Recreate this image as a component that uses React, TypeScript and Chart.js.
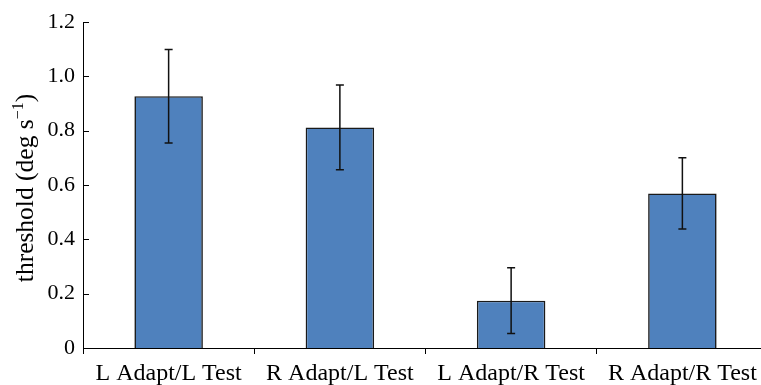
import React, { useEffect, useRef } from "react";
import { Chart, registerables } from "chart.js";

Chart.register(...registerables);

const categories = ["L Adapt/L Test", "R Adapt/L Test", "L Adapt/R Test", "R Adapt/R Test"];
const thresholds = [0.927, 0.812, 0.174, 0.569];
const errors = [0.172, 0.156, 0.121, 0.131];
const yTicks = [0, 0.2, 0.4, 0.6, 0.8, 1.0, 1.2];

const FONT = "'Liberation Serif', 'DejaVu Serif', serif";

const errorBarPlugin = {
  id: "errorBars",
  afterDatasetsDraw(chart: any) {
    const ctx = chart.ctx;
    const meta = chart.getDatasetMeta(0);
    const y = chart.scales.y;
    ctx.save();
    ctx.strokeStyle = "#111";
    ctx.lineWidth = 1.5;
    meta.data.forEach((bar: any, i: number) => {
      const x = bar.x;
      const top = y.getPixelForValue(thresholds[i] + errors[i]);
      const bot = y.getPixelForValue(thresholds[i] - errors[i]);
      ctx.beginPath();
      ctx.moveTo(x, top);
      ctx.lineTo(x, bot);
      ctx.moveTo(x - 4, top);
      ctx.lineTo(x + 4, top);
      ctx.moveTo(x - 4, bot);
      ctx.lineTo(x + 4, bot);
      ctx.stroke();
    });
    ctx.restore();
  },
};

const axisDecorPlugin = {
  id: "axisDecor",
  afterDraw(chart: any) {
    const ctx = chart.ctx;
    const y = chart.scales.y;
    const left = chart.chartArea.left;
    ctx.save();
    ctx.strokeStyle = "#000";
    ctx.lineWidth = 1;
    yTicks.forEach((v) => {
      const py = Math.round(y.getPixelForValue(v)) + 0.5;
      ctx.beginPath();
      ctx.moveTo(left, py);
      ctx.lineTo(left + 6, py);
      ctx.stroke();
    });
    // y title with superscript
    const main = "threshold (deg s";
    const sup = "\u22121";
    const close = ")";
    const mainFont = `25.5px ${FONT}`;
    const supFont = `16px ${FONT}`;
    ctx.font = mainFont;
    const w1 = ctx.measureText(main).width;
    const w3 = ctx.measureText(close).width;
    ctx.font = supFont;
    const w2 = ctx.measureText(sup).width;
    const total = w1 + w2 + w3;
    const cy = 188;
    ctx.translate(33, cy + total / 2);
    ctx.rotate(-Math.PI / 2);
    ctx.fillStyle = "#000";
    ctx.textBaseline = "alphabetic";
    ctx.textAlign = "left";
    ctx.font = mainFont;
    ctx.fillText(main, 0, 0);
    ctx.font = supFont;
    ctx.fillText(sup, w1, -10);
    ctx.font = mainFont;
    ctx.fillText(close, w1 + w2, 0);
    ctx.restore();
  },
};

export default function App() {
  const ref = useRef<HTMLCanvasElement | null>(null);
  useEffect(() => {
    if (!ref.current) return;
    const chart = new Chart(ref.current, {
      type: "bar",
      data: {
        labels: categories,
        datasets: [
          {
            data: thresholds,
            backgroundColor: "#4f81bd",
            borderColor: "#1a1a1a",
            borderWidth: 1.6,
            barPercentage: 0.4,
            categoryPercentage: 1,
          },
        ],
      },
      options: {
        responsive: false,
        animation: false,
        layout: { padding: { top: 22, right: 22, left: 0, bottom: 0 } },
        plugins: { legend: { display: false }, tooltip: { enabled: false } },
        scales: {
          x: {
            grid: {
              display: true,
              drawOnChartArea: false,
              drawTicks: true,
              tickLength: 6,
              color: "#000",
              lineWidth: 1,
              offset: true,
            },
            border: { display: true, color: "#000", width: 1 },
            ticks: {
              color: "#000",
              font: { family: FONT, size: 24 },
              padding: 5,
              maxRotation: 0,
              autoSkip: false,
            },
            afterFit(scale: any) {
              scale.height = 37;
            },
          },
          y: {
            min: 0,
            max: 1.2,
            grid: { display: false, drawTicks: false },
            border: { display: true, color: "#000", width: 1 },
            ticks: {
              stepSize: 0.2,
              color: "#000",
              font: { family: FONT, size: 22 },
              padding: 8,
              callback: (v: any) => (Number(v) === 0 ? "0" : Number(v).toFixed(1)),
            },
            afterFit(scale: any) {
              scale.width = 83;
            },
          },
        },
      },
      plugins: [errorBarPlugin, axisDecorPlugin],
    });
    return () => chart.destroy();
  }, []);
  return (
    <div
      style={{
        position: "fixed",
        left: 0,
        top: 0,
        width: 761,
        height: 385,
        overflow: "hidden",
        background: "#fff",
      }}
    >
      <canvas ref={ref} width={790} height={385} style={{ width: 790, height: 385, display: "block" }} />
    </div>
  );
}
